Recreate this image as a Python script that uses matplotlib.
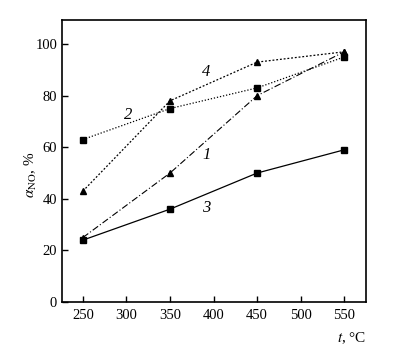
import matplotlib
matplotlib.use("Agg")
import matplotlib.pyplot as plt

plt.rcParams['font.family'] = ['Liberation Serif', 'DejaVu Serif']
plt.rcParams['mathtext.fontset'] = 'stix'

t = [250, 350, 450, 550]
s1 = [25, 50, 80, 97]
s2 = [63, 75, 83, 95]
s3 = [24, 36, 50, 59]
s4 = [43, 78, 93, 97]
xticks = [250, 300, 350, 400, 450, 500, 550]
yticks = [0, 20, 40, 60, 80, 100]

fig = plt.figure(figsize=(4.0, 3.52), dpi=100)
ax = fig.add_axes([0.155, 0.142, 0.76, 0.801])

ax.plot(t, s1, color='black', lw=0.8, linestyle=(0, (6, 2, 1, 2)), marker='^', ms=4.5)
ax.plot(t, s2, color='black', lw=0.9, linestyle=(0, (1, 1.5)), marker='s', ms=4)
ax.plot(t, s3, color='black', lw=0.9, linestyle='-', marker='s', ms=4)
ax.plot(t, s4, color='black', lw=0.9, linestyle=(0, (1.5, 1.5)), marker='^', ms=4.5)

lab_style = dict(fontsize=12, style='italic', ha='center', va='center')
ax.text(392, 57, '1', **lab_style)
ax.text(302, 72.5, '2', **lab_style)
ax.text(392, 36.5, '3', **lab_style)
ax.text(392, 89, '4', **lab_style)

ax.set_xlim(226, 575)
ax.set_ylim(0, 109.3)
ax.set_xticks(xticks)
ax.set_yticks(yticks)
ax.tick_params(direction='in', length=4, width=1, labelsize=10.5)
ax.tick_params(axis='x', pad=5)
for sp in ax.spines.values():
    sp.set_linewidth(1.2)

ax.set_ylabel(r'$\alpha$$_{\rm NO}$, %', fontsize=11)
ax.yaxis.set_label_coords(-0.075, 0.45)
ax.text(1.0, -0.13, r'$t$, °C', transform=ax.transAxes, ha='right', va='center', fontsize=11)

fig.savefig('out.png', dpi=100)
